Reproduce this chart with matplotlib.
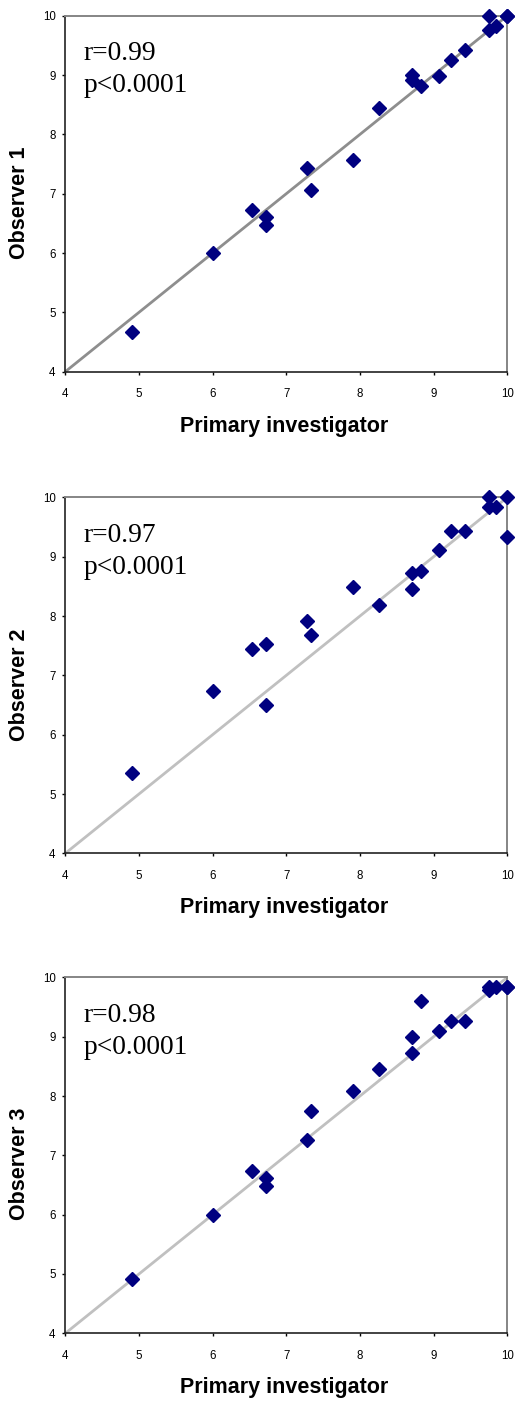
import matplotlib
matplotlib.use("Agg")
import matplotlib.pyplot as plt

# Primary investigator scores (shared x for all three panels)
primary = [4.91, 6.00, 6.54, 6.73, 6.73, 7.28, 7.33, 7.90, 8.26, 8.71,
           8.71, 8.83, 9.07, 9.23, 9.42, 9.75, 9.75, 9.84, 10.0, 10.0]

observer1 = [4.67, 6.00, 6.72, 6.60, 6.48, 7.44, 7.06, 7.57, 8.45, 9.00,
             8.92, 8.81, 8.99, 9.25, 9.43, 10.0, 9.76, 9.83, 10.0, 10.0]
observer2 = [5.36, 6.74, 7.45, 7.52, 6.50, 7.92, 7.68, 8.49, 8.18, 8.72,
             8.46, 8.76, 9.11, 9.44, 9.44, 10.0, 9.84, 9.84, 10.0, 9.33]
observer3 = [4.91, 5.99, 6.74, 6.61, 6.49, 7.26, 7.74, 8.08, 8.45, 9.00,
             8.72, 9.60, 9.10, 9.27, 9.27, 9.83, 9.78, 9.83, 9.83, 9.83]

observer_labels = ["Observer 1", "Observer 2", "Observer 3"]
r_values = ["0.99", "0.97", "0.98"]
p_text = "p<0.0001"
ticks = [4, 5, 6, 7, 8, 9, 10]
line_colors = ["#8e8e8e", "#c0c0c0", "#c0c0c0"]

fig = plt.figure(figsize=(5.15, 14.01), dpi=100)
plt.rcParams["font.family"] = ["Liberation Sans", "DejaVu Sans"]

left, width, height = 0.1268, 0.8583, 0.2541
bottoms = [0.7347, 0.3909, 0.0483]

for i, obs in enumerate([observer1, observer2, observer3]):
    ax = fig.add_axes([left, bottoms[i], width, height])
    ax.set_xlim(4, 10)
    ax.set_ylim(4, 10)

    # 1:1 reference line
    ax.plot([ticks[0], ticks[-1]], [ticks[0], ticks[-1]], color=line_colors[i],
            lw=2.0, zorder=2, clip_on=False, solid_capstyle="butt")
    ax.plot(primary, obs, linestyle="none", marker="D", ms=6.8,
            color="#000080", mec="#000080", zorder=3, clip_on=False)

    ax.set_xticks(ticks)
    ax.set_yticks(ticks)
    ax.tick_params(axis="both", direction="out", length=2.5, width=1,
                   labelsize=8.3, color="black")
    ax.tick_params(axis="x", pad=9.5)
    ax.tick_params(axis="y", pad=4.5)

    for side in ["left", "bottom"]:
        ax.spines[side].set_color("#222222")
        ax.spines[side].set_linewidth(1.2)
    for side in ["top", "right"]:
        ax.spines[side].set_color("#858585")
        ax.spines[side].set_linewidth(1.4)

    ax.text(0.496, -0.1685, "Primary investigator", transform=ax.transAxes,
            ha="center", va="baseline", fontsize=15.5, fontweight="bold")
    ax.text(-0.1025, 0.475, observer_labels[i], transform=ax.transAxes,
            ha="center", va="center", rotation=90, fontsize=15.5,
            fontweight="bold")

    ax.text(0.042, 0.8756, "r=" + r_values[i], transform=ax.transAxes,
            ha="left", va="baseline", fontsize=19.8,
            family=["Liberation Serif", "DejaVu Serif"])
    ax.text(0.042, 0.785, p_text, transform=ax.transAxes,
            ha="left", va="baseline", fontsize=19.8,
            family=["Liberation Serif", "DejaVu Serif"])

fig.savefig("out.png", dpi=100, facecolor="white")
